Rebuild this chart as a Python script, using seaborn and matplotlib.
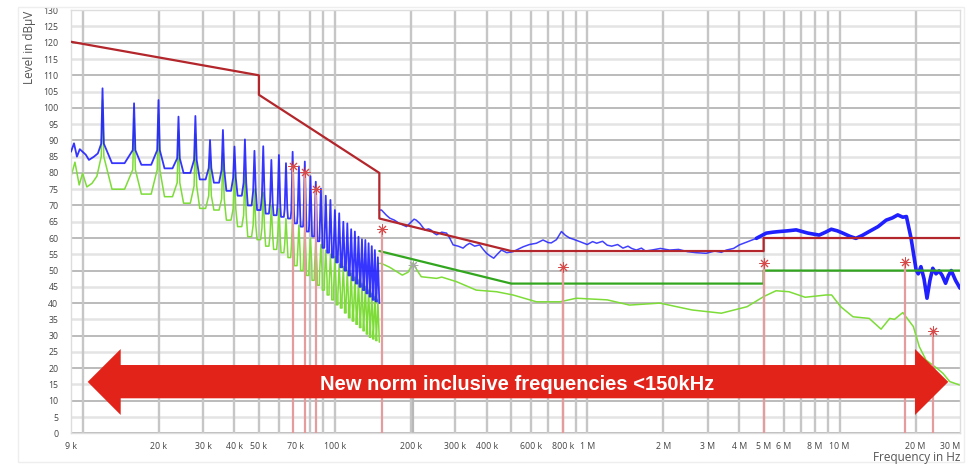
import numpy as np
import pandas as pd
import matplotlib
matplotlib.use("Agg")
import matplotlib.pyplot as plt
import seaborn as sns
from matplotlib.patches import Polygon, Rectangle

# ---------------- data (frequency in kHz, level in dBµV) ----------------
blue_pre_khz = [9.0, 9.25, 9.5, 9.75, 10.3, 10.6, 11.1, 11.5]
blue_pre_db = [86.5, 89.1, 85.0, 87.3, 85.6, 84.0, 85.0, 86.0]
green_pre_khz = [9.0, 9.33, 9.7, 10.0, 10.4, 10.9, 11.4]
green_pre_db = [78.9, 83.3, 76.3, 79.9, 75.7, 76.8, 79.0]

harmonic_khz = [12, 16, 20, 24, 28, 32, 36, 40, 44, 48, 52, 56, 60, 64, 68, 72, 76, 80,
                84, 88, 92, 96, 100, 104, 108, 112, 116, 120, 124, 128, 132, 136, 140, 144, 148]
blue_peak = [106.0, 101.4, 102.4, 97.3, 97.5, 90.1, 93.2, 88.1, 90.3, 86.8, 88.2, 84.0, 85.5, 83.0,
             86.5, 82.0, 83.5, 79.0, 77.3, 75.2, 73.0, 71.7, 68.6, 67.6, 65.0, 64.5, 62.7, 62.0,
             60.4, 59.6, 59.4, 58.4, 57.5, 56.3, 54.1]
blue_foot = [89, 87, 87, 84.5, 84, 81.5, 81, 78.5, 77, 74.5, 73, 71, 70.5, 69, 68.5, 67, 66, 64,
             62.5, 61, 59, 57.5, 56, 54.5, 53, 51.5, 50.5, 49, 48, 47, 46, 45, 44, 43, 42]
blue_valley = [83, 82.5, 81.4, 80, 78, 77, 74.5, 73, 70, 68.6, 67.5, 67, 66.5, 66, 64.5, 63.5, 62,
               60.5, 59, 57, 55.5, 54, 52.5, 51, 50, 48.5, 47, 46, 45, 44, 43, 42, 41, 40.5, 40]
green_peak = [102.4, 96.8, 98.0, 93.0, 92.0, 85.0, 86.0, 80.0, 80.0, 75.0, 74.0, 70.0, 69.0, 66.0,
              66.6, 64.0, 63.5, 60.0, 59.4, 58.0, 56.3, 55.0, 54.3, 52.0, 51.2, 50.0, 49.2, 48.0,
              47.1, 46.0, 45.1, 44.0, 43.0, 42.0, 41.0]
green_foot = [85, 81, 81, 77, 76, 73, 72, 69, 67, 64, 63, 61, 60, 58, 57, 55, 53.5, 52, 50.5, 49,
              47, 45.5, 44, 42.5, 41, 39.5, 38, 37, 36, 35, 34, 33, 32, 31, 30]
green_valley = [75, 73.5, 72.7, 70.7, 69.1, 68.6, 65.5, 63.5, 60.4, 59.5, 57.5, 56.5, 55.5, 54,
                51.5, 50, 48.5, 47, 45.5, 44, 42.5, 41, 39.5, 38.5, 37, 35.5, 34.5, 33.5, 32.5,
                31.5, 30.5, 29.5, 29, 28.5, 28]
comb_end_khz = 150

blue_hf_khz = [150, 153, 160, 165, 172, 180, 186, 192, 201, 206, 210, 217, 222, 227, 235, 240,
               247, 253, 265, 277, 285, 294, 308, 322, 332, 342, 358, 375, 387, 399, 412, 426,
               440, 457, 480, 508, 530, 557, 590, 629, 668, 700, 720, 755, 790, 820, 852, 890,
               934, 1000, 1050, 1090, 1150, 1200, 1250, 1320, 1385, 1450, 1500, 1565, 1640,
               1700, 1800, 1950, 2120, 2300, 2500, 2700, 2960, 3200, 3400, 3560, 3800, 4010,
               4300, 4680, 5120, 5450, 5780, 6200, 6730, 7100, 7500, 8300, 8800, 9270, 9800,
               10300, 11000, 11600, 12300, 13100, 14200, 15300, 16200, 17000, 17800, 18400,
               19200, 20100, 20500, 21000, 21600, 22200, 22800, 23400, 24100, 24800, 25500,
               26300, 27000, 27700, 28800, 30000]
blue_hf_db = [68.6, 68.6, 67.0, 66.1, 65.5, 64.5, 64.0, 63.5, 65.0, 65.8, 65.5, 64.5, 63.5, 62.5,
              62.8, 62.5, 61.5, 61.0, 61.8, 61.5, 60.0, 57.9, 57.5, 56.9, 57.8, 58.4, 57.5,
              57.9, 56.5, 55.3, 54.5, 53.8, 55.0, 56.3, 55.5, 55.8, 56.5, 57.3, 58.0, 58.4,
              59.4, 58.6, 58.5, 59.5, 62.0, 60.8, 60.0, 59.5, 58.9, 58.0, 58.9, 58.4, 59.0,
              57.8, 57.5, 58.0, 56.9, 57.5, 56.8, 56.3, 56.9, 56.0, 56.3, 56.8, 56.3, 56.5,
              55.8, 55.5, 55.3, 56.0, 55.6, 56.3, 56.8, 57.9, 58.8, 59.9, 61.5, 61.8, 62.0,
              62.2, 62.5, 62.0, 61.5, 60.9, 61.8, 62.7, 62.2, 61.5, 60.5, 59.9, 60.8, 62.0,
              63.5, 65.5, 66.2, 67.1, 66.4, 66.6, 59.9, 50.2, 49.0, 51.2, 47.5, 41.5, 47.0,
              50.7, 49.0, 49.9, 48.5, 46.1, 48.5, 50.0, 47.0, 44.6]
green_hf_khz = [150, 153, 165, 185, 195, 204, 212, 220, 253, 265, 303, 363, 437, 508, 629, 780,
                905, 1200, 1470, 1940, 2600, 3400, 4300, 5000, 5600, 6300, 7300, 8850, 9300,
                10100, 11300, 13100, 14600, 15800, 16500, 17800, 19600, 20700, 22000, 24300,
                25700, 27300, 30000]
green_hf_db = [52.2, 52.2, 51.0, 48.6, 49.5, 52.4, 50.0, 48.1, 47.6, 48.0, 46.6, 44.0, 43.5, 42.5,
               40.4, 40.4, 41.5, 41.0, 39.4, 40.0, 37.9, 36.9, 38.9, 42.0, 43.8, 43.5, 41.8, 42.5,
               42.5, 38.9, 35.8, 35.3, 32.0, 35.3, 35.0, 37.1, 32.8, 26.6, 22.5, 20.0, 18.4,
               15.9, 14.8]

qp_limit_khz = [9, 50, 50, 150, 150, 500, 5000, 5000, 30000]
qp_limit_db = [120.3, 110, 104, 80, 66, 56, 56, 60, 60]
avg_limit_khz = [150, 500, 5000, 5000, 30000]
avg_limit_db = [56, 46, 46, 50, 50]

marker_khz = [68, 76, 84, 153, 800, 5000, 18100, 23500]
marker_db = [82.0, 80.4, 75.1, 62.7, 51.0, 52.2, 52.7, 31.5]
grey_marker_khz = [204]
grey_marker_db = [51.7]

xtick_khz = [9, 20, 30, 40, 50, 70, 100, 200, 300, 400, 600, 800, 1000, 2000, 3000, 4000,
             5000, 6000, 8000, 10000, 20000, 30000]
xtick_labels = ["9 k", "20 k", "30 k", "40 k", "50 k", "70 k", "100 k", "200 k", "300 k",
                "400 k", "600 k", "800 k", "1 M", "2 M", "3 M", "4 M", "5 M", "6 M", "8 M",
                "10 M", "20 M", "30 M"]
xgrid_khz = [10, 20, 30, 40, 50, 60, 80, 90, 100, 200, 300, 400, 500, 600, 700, 800, 900,
             1000, 2000, 3000, 4000, 5000, 6000, 7000, 8000, 9000, 10000, 20000]
ytick_db = list(range(0, 131, 5))

banner_text = "New norm inclusive frequencies <150kHz"
ylabel_text = "Level in dB\u00b5V"
xlabel_text = "Frequency in Hz"


def comb(pre_f, pre_v, peak, foot, valley):
    """Spike at each harmonic, flat valley between harmonics."""
    f = list(pre_f)
    v = list(pre_v)
    n = len(harmonic_khz)
    for i, h in enumerate(harmonic_khz):
        f += [h / 1.012, h, h * 1.012]
        v += [foot[i], peak[i], foot[i]]
        if i + 1 < n:
            r = harmonic_khz[i + 1] / h
            f += [h * r ** 0.3, h * r ** 0.7]
            v += [valley[i], valley[i]]
        else:
            f += [comb_end_khz]
            v += [valley[i]]
    return pd.DataFrame({"f": f, "db": v})


blue_lf = comb(blue_pre_khz, blue_pre_db, blue_peak, blue_foot, blue_valley)
green_lf = comb(green_pre_khz, green_pre_db, green_peak, green_foot, green_valley)
blue_hf = pd.DataFrame({"f": blue_hf_khz, "db": blue_hf_db})
green_hf = pd.DataFrame({"f": green_hf_khz, "db": green_hf_db})
qp = pd.DataFrame({"f": qp_limit_khz, "db": qp_limit_db})
avg = pd.DataFrame({"f": avg_limit_khz, "db": avg_limit_db})

# ---------------- drawing ----------------
sns.set_style("white")
plt.rcParams["font.family"] = ["Open Sans", "DejaVu Sans"]

fig = plt.figure(figsize=(9.71, 4.65), dpi=100)
ax = fig.add_axes([71 / 971, (465 - 433.3) / 465, 889 / 971, 423.1 / 465])
ax.set_xscale("log")
ax.set_xlim(9, 30000)
ax.set_ylim(0, 130)

# grid
for yv in ytick_db:
    if yv % 10 == 0:
        ax.axhline(yv, color="#a8a8a8", lw=1.1, zorder=0)
    else:
        ax.axhline(yv, color="#e4e4e4", lw=1.8, zorder=0)
for xv in xgrid_khz:
    ax.axvline(xv, color="#c6c6c6", lw=1.7, zorder=0)

BLUE = "#1f1fff"
GREEN = "#7ddc38"

kw = dict(ax=ax, x="f", y="db", sort=False, estimator=None, legend=False)
sns.lineplot(data=green_lf, color=GREEN, lw=1.1, zorder=2, **kw)
sns.lineplot(data=green_hf, color=GREEN, lw=1.1, zorder=2, **kw)
sns.lineplot(data=blue_lf, color=BLUE, lw=1.3, alpha=0.9, zorder=3, **kw)
sns.lineplot(data=blue_hf[blue_hf.f <= 4680], color=BLUE, lw=1.1, alpha=0.85, zorder=3, **kw)
sns.lineplot(data=blue_hf[blue_hf.f >= 4680], color=BLUE, lw=2.6, zorder=3, **kw)

# limits
sns.lineplot(data=qp, color="#b3262b", lw=1.6, zorder=4, **kw)
sns.lineplot(data=avg, color="#33a61f", lw=1.6, zorder=4, **kw)

# markers
ax.vlines(marker_khz, 0, marker_db, color="#e49c9c", lw=1.6, zorder=5)
ax.vlines(grey_marker_khz, 0, grey_marker_db, color="#b8b8b8", lw=1.6, zorder=1)
sns.scatterplot(x=marker_khz, y=marker_db, ax=ax, marker=(8, 2, 0), s=45,
                color="#d64a4a", linewidth=0.7, zorder=6, legend=False)
sns.scatterplot(x=grey_marker_khz, y=grey_marker_db, ax=ax, marker=(8, 2, 0), s=40,
                color="#a8a8a8", linewidth=0.7, zorder=2, legend=False)

# ticks
ax.set_xticks(xtick_khz)
ax.set_xticklabels(xtick_labels)
ax.xaxis.set_minor_locator(matplotlib.ticker.NullLocator())
ax.get_xticklabels()[-1].set_horizontalalignment("right")
ax.set_yticks(ytick_db)
ax.set_yticklabels([str(v) for v in ytick_db])
ax.tick_params(axis="both", length=0, labelsize=6.3, labelcolor="#444444")
ax.tick_params(axis="y", pad=9)
ax.tick_params(axis="x", pad=6)
ax.set_xlabel("")
ax.set_ylabel("")
for s in ax.spines.values():
    s.set_color("#dddddd")
    s.set_linewidth(1.0)

fig.text(30 / 971, 1 - 47 / 465, ylabel_text, rotation=90, ha="center", va="center",
         fontsize=8.5, color="#555555")
fig.text(960 / 971, 1 - 457.5 / 465, xlabel_text, ha="right", va="center",
         fontsize=8.5, color="#555555")

# faint outer frame
fig.patches.append(Rectangle((18 / 971, 1 - 462 / 465), 946 / 971, 455 / 465,
                             transform=fig.transFigure, fill=False,
                             edgecolor="#eeeeee", lw=1.0))

# red double arrow banner (axes fraction coordinates)
arrow = Polygon([(0.0188, 0.1215), (0.0559, 0.1992), (0.0559, 0.1614), (0.9494, 0.1614),
                 (0.9494, 0.1992), (0.9868, 0.1215), (0.9494, 0.0433), (0.9494, 0.0827),
                 (0.0559, 0.0827), (0.0559, 0.0433)],
                closed=True, transform=ax.transAxes, facecolor="#e2231a",
                edgecolor="none", zorder=10, clip_on=False)
ax.add_patch(arrow)
ax.text(0.5022, 0.1023, banner_text, transform=ax.transAxes, ha="center", va="baseline",
        color="white", fontsize=14.5, fontweight="bold",
        family=["Liberation Sans", "DejaVu Sans"], zorder=11)

fig.savefig("out.png", dpi=100, facecolor="white")
